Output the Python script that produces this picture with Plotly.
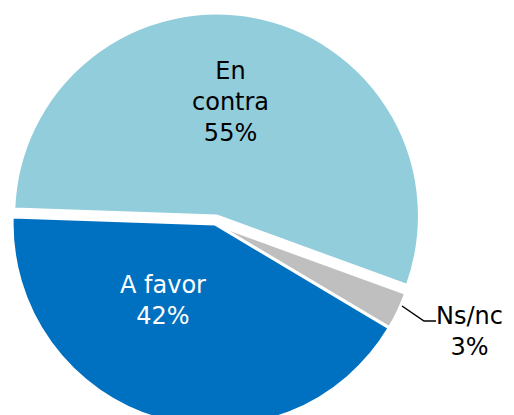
import plotly.graph_objects as go

# Pie data (clockwise order)
labels = ['En contra', 'Ns/nc', 'A favor']
values = [55, 3, 42]
colors = ['#92CDDC', '#BFBFBF', '#0070C0']
text_colors = ['#000000', '#000000', '#FFFFFF']

W = 514; H = 435; TOP = 13

# pixel -> paper coords helper
def px(x, y):
	return x / W, (H - y) / (H - TOP)

fig = go.Figure(go.Pie(
	labels=labels, values=values,
	textinfo='none', sort=False, direction='clockwise', rotation=-88,
	pull=[0.04, 0, 0],
	marker=dict(colors=colors, line=dict(color='white', width=3)),
	domain=dict(x=[0, 0.8366], y=[0, 1]),
	hoverinfo='label+percent', showlegend=False
))

# Label positions (pixel centres)
label_pos = [(230, 102), (469, 331), (163, 300)]
for i in range(len(labels)):
	name = labels[i].replace('En contra', 'En<br>contra')
	x, y = px(*label_pos[i])
	fig.add_annotation(x=x, y=y, xref='paper', yref='paper', showarrow=False,
		xanchor='center', yanchor='middle',
		text=name + '<br>' + str(values[i]) + '%', align='center',
		font=dict(family='DejaVu Sans', size=24, color=text_colors[i]))

# leader line for Ns/nc
p1 = px(402, 306); p2 = px(424, 321); p3 = px(436, 321)
fig.add_shape(type='path', xref='paper', yref='paper',
	path='M %f %f L %f %f L %f %f' % (p1[0], p1[1], p2[0], p2[1], p3[0], p3[1]),
	line=dict(color='black', width=1.5))

fig.update_layout(
	width=W, height=H,
	margin=dict(l=0, r=0, t=TOP, b=0),
	paper_bgcolor='white', plot_bgcolor='white'
)

fig.write_html("out.html", config={'displayModeBar': False},
	post_script="document.body.style.margin='0';document.body.style.overflow='hidden';")
